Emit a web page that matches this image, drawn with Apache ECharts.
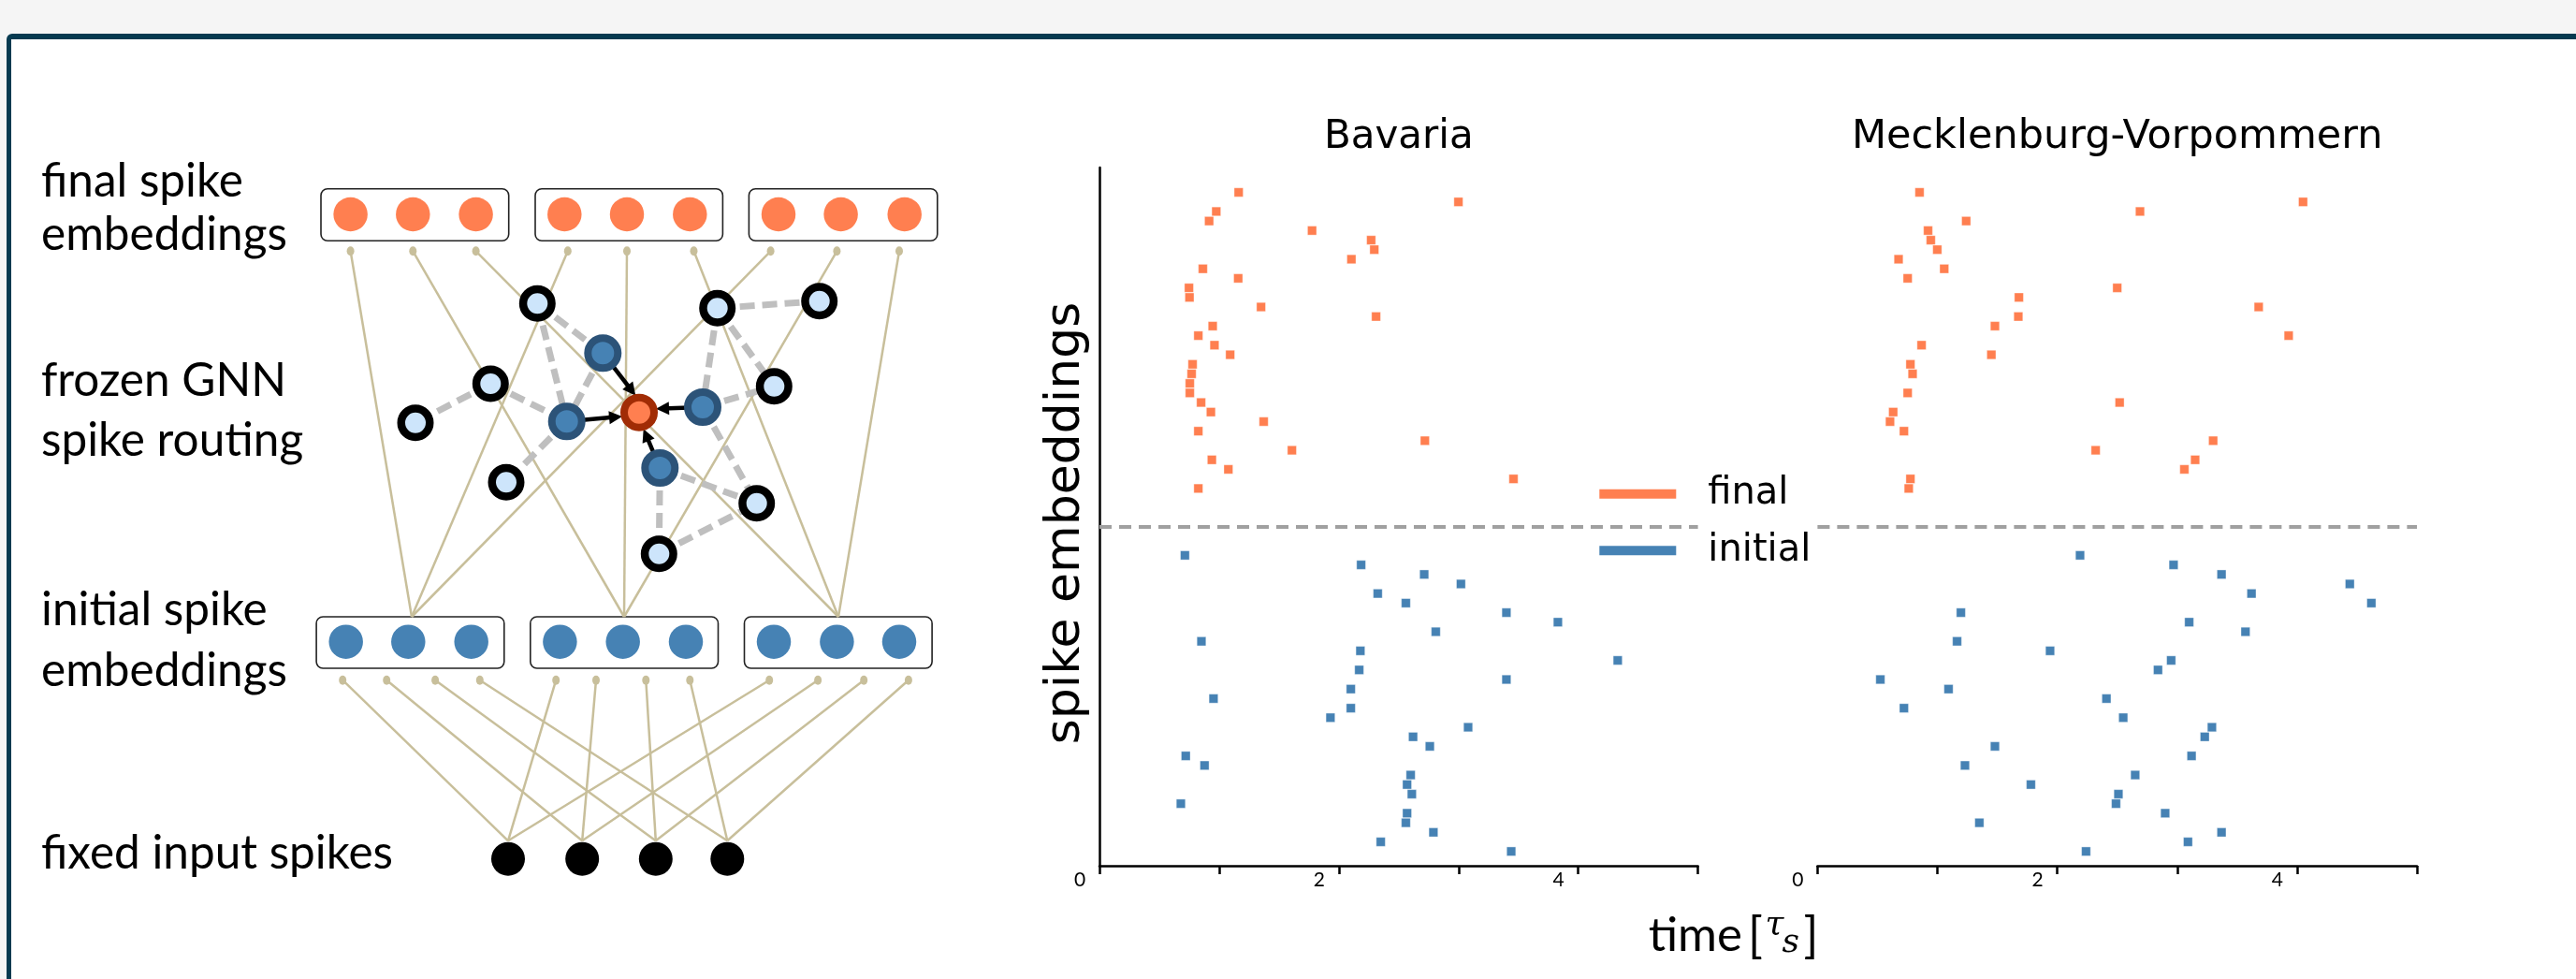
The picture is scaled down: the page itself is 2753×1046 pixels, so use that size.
<!DOCTYPE html>
<html><head><meta charset="utf-8">
<script src="https://cdn.jsdelivr.net/npm/echarts/dist/echarts.min.js"></script>
<style>
html,body{margin:0;padding:0;background:#f5f5f5;width:2753px;height:1046px;overflow:hidden}
#frame{position:absolute;left:7px;top:36px;width:2800px;height:1100px;background:#fff;border-left:5px solid #063a50;border-top:6px solid #063a50;border-top-left-radius:6px}
#chart{position:absolute;left:0;top:0;width:2753px;height:1046px}
</style></head><body><div id="frame"></div><div id="chart"></div>
<script>
// ---------------- raster plot data ----------------
const timeTicks = [0, 1, 2, 3, 4, 5];
const timeTickLabels = ['0', '', '2', '', '4', ''];
const finalRows = [69,68,67,66,65,64,63,62,61,60,59,58,57,56,55,54,53,52,51,50,49,48,47,46,45,44,43,42,41,40,39,38];
const initialRows = [31,30,29,28,27,26,25,24,23,22,21,20,19,18,17,16,15,14,13,12,11,10,9,8,7,6,5,4,3,2,1,0];
const separatorRow = 34;
const bavariaFinal = [1.163,2.999,0.976,0.916,1.776,2.270,2.296,2.105,0.864,1.159,0.748,0.752,1.350,2.311,0.946,0.826,0.961,1.092,0.778,0.770,0.755,0.755,0.849,0.931,1.372,0.826,2.719,1.608,0.939,1.077,3.459,0.826];
const bavariaInitial = [0.714,2.186,2.713,3.02,2.325,2.56,3.40,3.83,2.81,0.852,2.18,4.33,2.17,3.40,2.10,0.953,2.10,1.93,3.08,2.62,2.76,0.721,0.878,2.60,2.57,2.61,0.680,2.57,2.56,2.79,2.35,3.44];
const meckFinal = [0.851,4.05,2.69,1.24,0.922,0.945,0.999,0.676,1.057,0.752,2.50,1.68,3.68,1.675,1.48,3.93,0.868,1.45,0.775,0.793,null,0.752,2.52,0.631,0.605,0.721,3.30,2.32,3.15,3.06,0.775,0.761];
const meckInitial = [2.19,2.97,3.37,4.44,3.62,4.62,1.196,3.10,3.57,1.164,1.94,2.95,2.84,0.524,1.093,2.41,0.721,2.55,3.29,3.23,1.48,3.12,1.23,2.65,1.78,2.51,2.49,2.90,1.35,3.37,3.09,2.24];
const regionTitles = ['Bavaria', 'Mecklenburg-Vorpommern'];
const legendNames = ['final', 'initial'];

// ---------------- schematic data (diagram units) ----------------
const finalBoxes = [[343,201.7,543.7,257.3],[572,201.7,772.4,257.3],[800.4,201.7,1001.8,257.3]];
const initBoxes = [[338.1,659,538.8,714],[566.8,659,767.5,714],[795.5,659,996.1,714]];
const finalCircleX = [374.6,441.3,508.6,603.3,670,737.3,832,898.6,966.7];
const finalCircleY = 229;
const initCircleX = [369.7,436.3,503.7,598.4,665.7,733,827,894.4,961];
const initCircleY = 685.7;
const upperDotX = [374.6,441.3,508.6,606.8,670,741.5,823.6,894.4,961];
const upperDotY = 268.3;
const upperTargets = [0,1,2,0,1,2,0,1,2];
const initBoxTopX = [440,667,896];
const initBoxTopY = 659;
const lowerDotX = [366.2,413.2,465.1,512.8,594.2,637,690.3,737.3,822.2,874.1,923.2,970.9];
const lowerDotY = 726.7;
const lowerTargets = [0,1,2,3,0,1,2,3,0,1,2,3];
const inputX = [543,622.2,700.8,777.3];
const inputY = 917.7;
const inputTopY = 898.3;
const gnnNames = ['N1','N2','N3','N4','N5','N6','N7','N8','N9','B1','B2','B3','B4','C'];
const gnnX = [574.3,766.7,875.7,524.3,827.3,444,541,808.7,704.3,644.3,605.7,751,705.3,683];
const gnnY = [324.3,329.3,321.7,410,412.7,451.7,515.3,537.7,591.7,377.3,450.3,435,500,440.7];
const gnnKind = ['frozen','frozen','frozen','frozen','frozen','frozen','frozen','frozen','frozen','active','active','active','active','target'];
const gnnEdges = [['N1','B1'],['N1','B2'],['B1','B2'],['N4','B2'],['N4','N6'],['B2','N7'],['N2','N3'],['N2','B3'],['N2','N5'],['B3','N5'],['B3','N8'],['B4','N8'],['B4','N9'],['N9','N8']];
const arrowFrom = ['B1','B2','B3','B4'];
const arrowHeadX = [675,658,708,690.4];
const arrowHeadY = [417.2,445.6,436.5,464.7];
const diagramLabels = ['final spike','embeddings','frozen GNN','spike routing','initial spike','embeddings','fixed input spikes'];
const diagramLabelBaselines = [213,270,426,490,671.7,736,931.7];

const ORANGE = '#ff7f50', BLUE = '#4682b4', TAN = '#c8bf9b';

function rasterPoints(xs, rows) {
  const out = [];
  xs.forEach((x, i) => { if (x !== null) out.push([x, rows[i]]); });
  return out;
}
function nodePos(name) { const i = gnnNames.indexOf(name); return [gnnX[i], gnnY[i]]; }

const tanLines = [];
upperDotX.forEach((x, k) => tanLines.push({coords: [[x, upperDotY], [initBoxTopX[upperTargets[k]], initBoxTopY]]}));
lowerDotX.forEach((x, k) => tanLines.push({coords: [[x, lowerDotY], [inputX[lowerTargets[k]], inputTopY]]}));
const tanDots = upperDotX.map(x => [x, upperDotY]).concat(lowerDotX.map(x => [x, lowerDotY]));

const nodeStyles = {
  frozen: {size: 30.5, itemStyle: {color: '#cde5fb', borderColor: '#000', borderWidth: 8.5, opacity: 1}},
  active: {size: 32, itemStyle: {color: BLUE, borderColor: '#2c5378', borderWidth: 8, opacity: 1}},
  target: {size: 32, itemStyle: {color: ORANGE, borderColor: '#a12c05', borderWidth: 8, opacity: 1}}
};
const gnnNodeData = gnnNames.map((n, i) => ({value: [gnnX[i], gnnY[i]], symbolSize: nodeStyles[gnnKind[i]].size, itemStyle: nodeStyles[gnnKind[i]].itemStyle}));
const gnnEdgeData = gnnEdges.map(e => ({coords: [nodePos(e[0]), nodePos(e[1])]}));
const arrowData = arrowFrom.map((n, i) => ({coords: [nodePos(n), [arrowHeadX[i], arrowHeadY[i]]]}));

const D = {xAxisIndex: 2, yAxisIndex: 2, silent: true, animation: false};

const chart = echarts.init(document.getElementById('chart'), null, {renderer: 'canvas'});

function xAxisCfg(gridIndex) {
  return {
    gridIndex, type: 'value', min: 0, max: 5, interval: 1,
    axisLine: {show: true, onZero: false, lineStyle: {color: '#000', width: 2.5}},
    axisTick: {show: true, length: 9, lineStyle: {color: '#000', width: 2.5}},
    axisLabel: {
      show: true, margin: 5, color: '#000', fontFamily: 'Lato', fontSize: 21,
      padding: [0, 42, 0, 0],
      formatter: v => { const i = timeTicks.indexOf(v); return i >= 0 ? timeTickLabels[i] : ''; }
    },
    splitLine: {show: false}
  };
}
function yAxisCfg(gridIndex, showLine) {
  return {
    gridIndex, type: 'value', min: -1.5, max: 71.6,
    axisLine: {show: showLine, onZero: false, lineStyle: {color: '#000', width: 2.5}},
    axisTick: {show: false}, axisLabel: {show: false}, splitLine: {show: false}
  };
}
function rasterSeries(name, data, gi, color, withSep) {
  const s = {
    type: 'scatter', name, xAxisIndex: gi, yAxisIndex: gi, data,
    symbol: 'rect', symbolSize: 9.6, animation: false,
    itemStyle: {color, opacity: 1, borderColor: 'rgba(255,255,255,0.55)', borderWidth: 0.7},
    emphasis: {disabled: true}, z: 3
  };
  if (withSep) {
    s.markLine = {
      silent: true, symbol: 'none', animation: false,
      label: {show: false},
      lineStyle: {color: '#a0a0a0', width: 4, type: [13, 8], opacity: 1},
      data: [{yAxis: separatorRow}]
    };
  }
  return s;
}

function txt(x, y, text, font, align) {
  return {type: 'text', x, y, z: 100, silent: true,
    style: {text, fill: '#000', font, textAlign: align || 'left', align: align || 'left', textVerticalAlign: 'middle', verticalAlign: 'middle'}};
}
const graphic = [];
diagramLabels.forEach((t, i) => graphic.push(txt(44, diagramLabelBaselines[i] - 19.2, t, '49.5px Lato')));
graphic.push(txt(1494.8, 147.2, regionTitles[0], '42px "DejaVu Sans"', 'center'));
graphic.push(txt(2262.7, 147.2, regionTitles[1], '43px "DejaVu Sans"', 'center'));
const yName = txt(1139, 559, 'spike embeddings', '52px "DejaVu Sans"', 'center');
yName.rotation = Math.PI / 2;
graphic.push(yName);
graphic.push(txt(1761.7, 999.8, 'time', '51px Lato'));
graphic.push(txt(1868, 999.8, '[', '52px Lato'));
graphic.push(txt(1886.5, 989, 'τ', 'italic 36px "DejaVu Serif"'));
graphic.push(txt(1904.5, 1008, 's', 'italic 36px "DejaVu Serif"'));
graphic.push(txt(1927.5, 999.8, ']', '52px Lato'));

const option = {
  animation: false,
  backgroundColor: 'transparent',
  grid: [
    {left: 1175, top: 179, width: 639.6, height: 746},
    {left: 1942.4, top: 179, width: 640.6, height: 746},
    {left: 0, top: 0, width: 1100, height: 1046}
  ],
  xAxis: [xAxisCfg(0), xAxisCfg(1),
    {gridIndex: 2, type: 'value', min: 0, max: 1100, show: false}],
  yAxis: [yAxisCfg(0, true), yAxisCfg(1, false),
    {gridIndex: 2, type: 'value', min: 0, max: 1046, inverse: true, show: false}],
  legend: {
    data: legendNames, orient: 'vertical', left: 1709.3, top: 507.7, padding: 0,
    itemWidth: 82, itemHeight: 10, itemGap: 20.6, icon: 'rect', selectedMode: false,
    itemStyle: {borderWidth: 0, opacity: 1},
    textStyle: {fontFamily: 'DejaVu Sans', fontSize: 40, color: '#000', lineHeight: 40, padding: [0, 0, 0, 29]}
  },
  graphic,
  series: [
    Object.assign({type: 'custom', z: 1, data: finalBoxes.concat(initBoxes),
      encode: {x: [0, 2], y: [1, 3]},
      renderItem: (params, api) => {
        const p0 = api.coord([api.value(0), api.value(1)]);
        const p1 = api.coord([api.value(2), api.value(3)]);
        return {type: 'rect', shape: {x: p0[0], y: p0[1], width: p1[0] - p0[0], height: p1[1] - p0[1], r: 7},
          style: {fill: '#fff', stroke: '#222', lineWidth: 1.6}};
      }}, D),
    Object.assign({type: 'lines', coordinateSystem: 'cartesian2d', z: 2, data: tanLines, symbol: 'none',
      lineStyle: {color: TAN, width: 2.5, opacity: 1, curveness: 0}}, D),
    Object.assign({type: 'scatter', z: 3, data: tanDots, symbol: 'circle', symbolSize: [8, 10],
      itemStyle: {color: TAN, opacity: 1}}, D),
    Object.assign({type: 'scatter', z: 4, data: finalCircleX.map(x => [x, finalCircleY]), symbolSize: 36.5,
      itemStyle: {color: ORANGE, opacity: 1}}, D),
    Object.assign({type: 'scatter', z: 4, data: initCircleX.map(x => [x, initCircleY]), symbolSize: 36.5,
      itemStyle: {color: BLUE, opacity: 1}}, D),
    Object.assign({type: 'scatter', z: 4, data: inputX.map(x => [x, inputY]), symbolSize: 36,
      itemStyle: {color: '#000', opacity: 1}}, D),
    Object.assign({type: 'lines', coordinateSystem: 'cartesian2d', z: 5, data: gnnEdgeData, symbol: 'none',
      lineStyle: {color: '#bfbfbf', width: 7, type: [16, 8], opacity: 1}}, D),
    Object.assign({type: 'lines', coordinateSystem: 'cartesian2d', z: 6, data: arrowData,
      symbol: ['none', 'triangle'], symbolSize: 14,
      lineStyle: {color: '#000', width: 4.5, opacity: 1}}, D),
    Object.assign({type: 'scatter', z: 7, data: gnnNodeData, symbol: 'circle'}, D),

    rasterSeries('final', rasterPoints(bavariaFinal, finalRows), 0, ORANGE, true),
    rasterSeries('initial', rasterPoints(bavariaInitial, initialRows), 0, BLUE, false),
    rasterSeries('final', rasterPoints(meckFinal, finalRows), 1, ORANGE, true),
    rasterSeries('initial', rasterPoints(meckInitial, initialRows), 1, BLUE, false)
  ]
};
chart.setOption(option);
</script></body></html>
